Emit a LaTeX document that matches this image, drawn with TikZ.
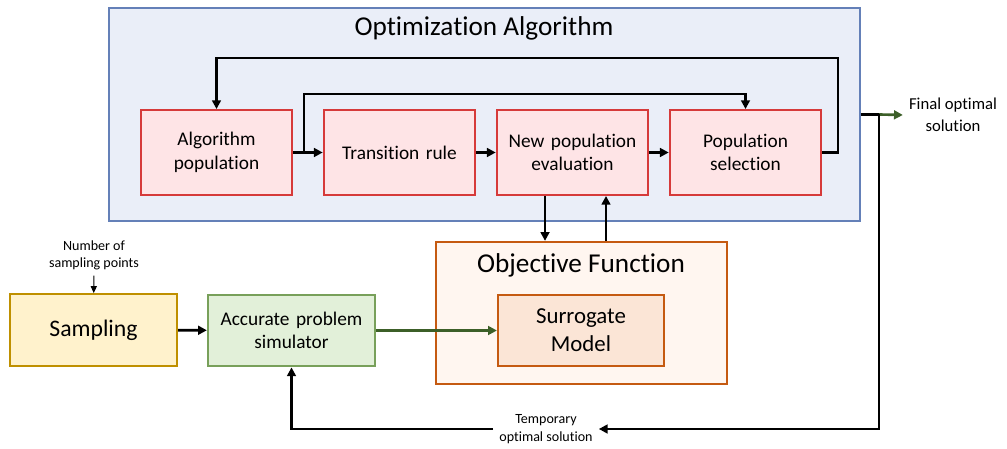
\documentclass[tikz,border=0pt]{standalone}
\usepackage{fontspec}
\setmainfont{Carlito}[Ligatures={NoCommon}]
\usepackage{xcolor}
\usepackage{tikz}
\usetikzlibrary{arrows.meta,positioning,calc}

\definecolor{optfill}{RGB}{234,238,248}
\definecolor{optdraw}{RGB}{100,128,184}
\definecolor{stepfill}{RGB}{254,228,230}
\definecolor{stepdraw}{RGB}{214,58,58}
\definecolor{objfill}{RGB}{255,246,240}
\definecolor{objdraw}{RGB}{197,90,17}
\definecolor{surfill}{RGB}{251,229,214}
\definecolor{sampfill}{RGB}{255,242,204}
\definecolor{sampdraw}{RGB}{191,144,0}
\definecolor{simfill}{RGB}{226,240,217}
\definecolor{simdraw}{RGB}{120,160,90}
\definecolor{arrowgreen}{RGB}{60,95,40}

\begin{document}
\begin{tikzpicture}[x=0.02cm, y=-0.02cm]
  % styles
  \tikzstyle{stepbox} = [rectangle, draw=stepdraw, fill=stepfill, line width=1.1pt, minimum width=3cm, minimum height=1.7cm, text width=2.8cm, align=center, font=\fontsize{11}{13.5}\selectfont]
  \tikzstyle{datbox} = [rectangle, line width=1.3pt, minimum width=3.34cm, minimum height=1.43cm, text width=3.1cm, align=center]
  \tikzstyle{flow} = [line width=1.5pt, -{Triangle[length=5pt,width=5pt]}]
  \tikzstyle{note} = [align=center, font=\fontsize{8}{9.5}\selectfont]

  \useasboundingbox (0,0) rectangle (1007,449);

  % Optimization algorithm frame
  \node[rectangle, draw=optdraw, fill=optfill, line width=1.1pt, minimum width=15.02cm, minimum height=4.26cm] (optbox) at (484.5,114.5) {};
  \node[font=\fontsize{15.5}{18}\selectfont] (opttitle) at (484,28) {Optimization Algorithm};

  % algorithm steps
  \node[stepbox] (pop) at (216.5,152.5) {Algorithm population};
  \node[stepbox] (trans) at (399.5,152.5) {Transition rule};
  \node[stepbox] (neweval) at (572.5,152.5) {New population evaluation};
  \node[stepbox] (select) at (745.5,152.5) {Population selection};

  % objective function
  \node[rectangle, draw=objdraw, fill=objfill, line width=1.3pt, minimum width=5.82cm, minimum height=2.84cm] (objfun) at (581.5,313) {};
  \node[font=\fontsize{15.5}{18}\selectfont] (objtitle) at (581,265) {Objective Function};
  \node[datbox, draw=objdraw, fill=surfill, font=\fontsize{13}{16}\selectfont, minimum width=3.32cm, minimum height=1.42cm, text width=3cm] (surr) at (581,330.5) {Surrogate Model};

  % sampling and simulator
  \node[datbox, draw=sampdraw, fill=sampfill, font=\fontsize{13.5}{16}\selectfont] (samp) at (93.5,330) {Sampling};
  \node[datbox, draw=simdraw, fill=simfill, font=\fontsize{11}{13.5}\selectfont] (sim) at (291.5,330.5) {Accurate problem\\simulator};

  % labels
  \node[note] (npts) at (94,255) {Number of\\sampling points};
  \node[note, font=\fontsize{8}{10}\selectfont] (tmpopt) at (546,429) {Temporary\\optimal solution};
  \node[align=center, font=\fontsize{9.5}{12.5}\selectfont] (final) at (953,115) {Final optimal\\solution};

  % helper points
  \coordinate (split) at (304,152.5);
  \coordinate (loopA) at (838,58);
  \coordinate (loopB) at (304,94);
  \coordinate (outj) at (879,114.5);

  % connectors inside the algorithm
  \draw[flow] (pop) -- (trans);
  \draw[flow] (trans) -- (neweval);
  \draw[flow] (neweval) -- (select);
  \draw[flow] (select.east) -| (loopA) -| (pop.north);
  \draw[flow] (split) -- (loopB) -| (select.north);

  % evaluation <-> objective function
  \draw[flow] ([xshift=-0.55cm]neweval.south) -- ([xshift=-0.55cm]neweval.south |- objfun.north);
  \draw[flow] ([xshift=0.67cm]neweval.south |- objfun.north) -- ([xshift=0.67cm]neweval.south);

  % sampling chain
  \draw[line width=0.6pt, -{Triangle[length=4pt,width=3.5pt]}] (npts) -- (samp);
  \draw[flow] (samp) -- (sim);
  \draw[flow, arrowgreen] (sim) -- (surr);

  % outputs
  \draw[line width=1.5pt] (optbox.east) -- (outj);
  \draw[flow, arrowgreen] (outj) -- (final.west);
  \draw[flow] (outj) |- (tmpopt.east);
  \draw[flow] (tmpopt.west) -| (sim.south);
\end{tikzpicture}
\end{document}
